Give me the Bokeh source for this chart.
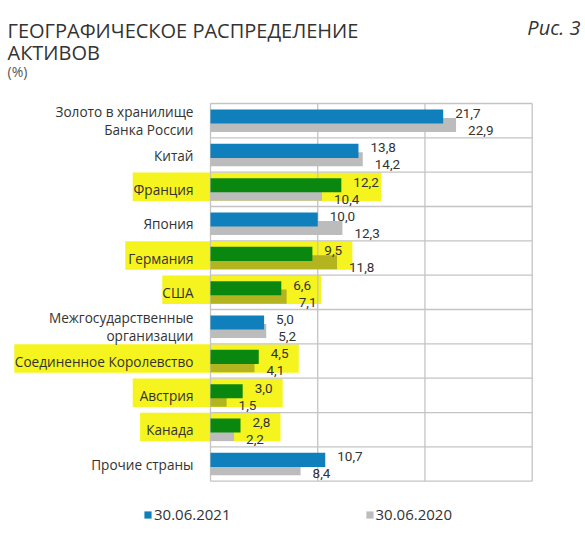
from bokeh.plotting import figure
from bokeh.models import Range1d, Label, Legend, LegendItem, ColumnDataSource
from bokeh.core.properties import value
from bokeh.embed import file_html
from bokeh.resources import INLINE

# ---------------- data ----------------
categories = [
    "Золото в хранилище\nБанка России",
    "Китай",
    "Франция",
    "Япония",
    "Германия",
    "США",
    "Межгосударственные\nорганизации",
    "Соединенное Королевство",
    "Австрия",
    "Канада",
    "Прочие страны",
]
values_2021 = [21.7, 13.8, 12.2, 10.0, 9.5, 6.6, 5.0, 4.5, 3.0, 2.8, 10.7]
values_2020 = [22.9, 14.2, 10.4, 12.3, 11.8, 7.1, 5.2, 4.1, 1.5, 2.2, 8.4]
series_labels = ["30.06.2021", "30.06.2020"]
highlighted = ["Франция", "Германия", "США", "Соединенное Королевство", "Австрия", "Канада"]
tinted_2020 = ["Германия", "США", "Соединенное Королевство", "Австрия"]
x_ticks = [0, 10, 20, 30]
title_lines = ["ГЕОГРАФИЧЕСКОЕ РАСПРЕДЕЛЕНИЕ", "АКТИВОВ"]
unit_label = "(%)"
fig_label = "Рис. 3"

# ---------------- style / layout ----------------
W, H = 583, 533
PLOT_L, PLOT_R = 210.0, 531.7
PLOT_T, PLOT_B = 103.0, 480.7
n = len(categories)
XMAX = x_ticks[-1]
ppx = (PLOT_R - PLOT_L) / XMAX
ppy = (PLOT_B - PLOT_T) / n

BLUE = "#0f80bb"
GREEN = "#0a870f"
GRAY = "#bcbcbc"
OLIVE = "#b4b41e"
YELLOW = "#f6f41e"
GRID = "#c4c4c4"
TXT = "#333333"
REG_S = "Open Sans"
NUM_S = "Roboto"
REG = value(REG_S)
NUM = value(NUM_S)

p = figure(width=W, height=H,
           x_range=Range1d(-PLOT_L / ppx, (W - PLOT_L) / ppx),
           y_range=Range1d((H - PLOT_T) / ppy, -PLOT_T / ppy),
           x_axis_type=None, y_axis_type=None,
           output_backend="svg", toolbar_location=None, min_border=0)
p.grid.visible = False
p.outline_line_color = None
p.background_fill_color = "white"
p.border_fill_color = "white"

centers = [i + 0.5 for i in range(n)]
short = [c.replace("\n", " ") for c in categories]

# highlighter marks (behind everything)
hl_idx = [i for i, c in enumerate(short) if c in highlighted]
hl = ColumnDataSource(dict(
    left=[-(17 + len(short[i]) * 7.4 + 9) / ppx for i in hl_idx],
    right=[values_2021[i] + 40 / ppx for i in hl_idx],
    top=[i + 0.01 for i in hl_idx],
    bottom=[i + 0.84 for i in hl_idx],
))
p.quad(left="left", right="right", top="top", bottom="bottom", source=hl,
       fill_color=YELLOW, line_color=None)

# grid / frame
p.segment(x0=x_ticks, y0=[0] * len(x_ticks), x1=x_ticks, y1=[n] * len(x_ticks),
          line_color=GRID, line_width=1.3)
p.segment(x0=[0] * (n + 1), y0=list(range(n + 1)), x1=[XMAX] * (n + 1), y1=list(range(n + 1)),
          line_color=GRID, line_width=1.3)

# bars
src = ColumnDataSource(dict(
    y21=[c - 0.12 for c in centers],
    y20=[c + 0.125 for c in centers],
    v21=values_2021,
    v20=values_2020,
    c21=[GREEN if s in highlighted else BLUE for s in short],
    c20=[OLIVE if s in tinted_2020 else GRAY for s in short],
    t21=[f"{v:.1f}".replace(".", ",") for v in values_2021],
    t20=[f"{v:.1f}".replace(".", ",") for v in values_2020],
    cat=categories,
    cy=centers,
    zero=[0] * n,
))
r20 = p.hbar(y="y20", left=0, right="v20", height=0.41, fill_color="c20", line_color=None, source=src)
r21 = p.hbar(y="y21", left=0, right="v21", height=0.41, fill_color="c21", line_color=None, source=src)

# value labels
p.text(x="v21", y="y21", text="t21", x_offset=12, y_offset=-3, text_align="left",
       text_baseline="middle", text_font=NUM, text_font_size="13.5px", text_color=TXT, source=src)
p.text(x="v20", y="y20", text="t20", x_offset=12, y_offset=5.5, text_align="left",
       text_baseline="middle", text_font=NUM, text_font_size="13.5px", text_color=TXT, source=src)

# category labels
p.text(x="zero", y="cy", text="cat", x_offset=-17, text_align="right", text_baseline="middle",
       text_font=REG, text_font_size="13.6px", text_color=TXT, text_line_height=0.92, source=src)

# titles
p.add_layout(Label(x=7, y=H - 30, x_units="screen", y_units="screen", text=title_lines[0],
                   text_font=REG_S, text_font_size="20px", text_color=TXT, text_baseline="alphabetic"))
p.add_layout(Label(x=7, y=H - 51.7, x_units="screen", y_units="screen", text=title_lines[1],
                   text_font=REG_S, text_font_size="20px", text_color=TXT, text_baseline="alphabetic"))
p.add_layout(Label(x=7, y=H - 71, x_units="screen", y_units="screen", text=unit_label,
                   text_font=REG_S, text_font_size="14px", text_color="#555555", text_baseline="alphabetic"))
p.add_layout(Label(x=580, y=H - 27, x_units="screen", y_units="screen", text=fig_label,
                   text_font=REG_S, text_font_size="20px", text_font_style="italic", text_color=TXT,
                   text_align="right", text_baseline="alphabetic"))

# legend
legend = Legend(items=[LegendItem(label=series_labels[0], renderers=[r21], index=0),
                       LegendItem(label=series_labels[1], renderers=[r20], index=0)],
                orientation="horizontal", location=(143, H - 524),
                glyph_width=9, glyph_height=9, label_standoff=2, spacing=134,
                padding=0, margin=0, border_line_color=None, background_fill_alpha=0,
                label_text_font=REG_S, label_text_font_size="15px", label_text_color=TXT,
                label_height=14)
p.add_layout(legend)

open("out.html", "w").write(file_html(p, INLINE))
